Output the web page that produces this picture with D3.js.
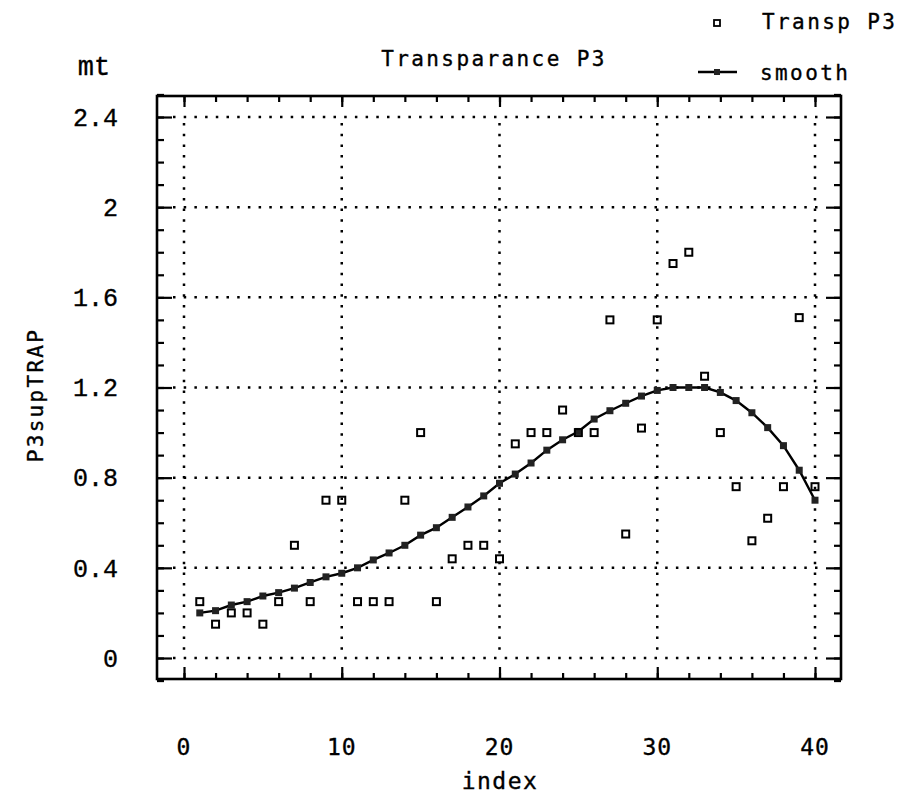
<!DOCTYPE html>
<html>
<head>
<meta charset="utf-8">
<script src="https://cdn.jsdelivr.net/npm/d3@7"></script>
<style>
  body { margin: 0; background: #fff; }
  text { fill: #000; stroke: #000; stroke-width: 0.35px; }
  .plotter { font-family: 'DejaVu Sans Mono', monospace; }
  .typewriter { font-family: 'Liberation Mono', 'Courier New', monospace; }
</style>
</head>
<body>
<svg id="chart" width="908" height="797"></svg>
<script>
/* data */
var indexValues = [1, 2, 3, 4, 5, 6, 7, 8, 9, 10,
  11, 12, 13, 14, 15, 16, 17, 18, 19, 20,
  21, 22, 23, 24, 25, 26, 27, 28, 29, 30,
  31, 32, 33, 34, 35, 36, 37, 38, 39, 40]

var transpP3 = [0.25, 0.15, 0.2, 0.2, 0.15, 0.25, 0.5, 0.25, 0.7, 0.7,
  0.25, 0.25, 0.25, 0.7, 1.0, 0.25, 0.44, 0.5, 0.5, 0.44,
  0.95, 1.0, 1.0, 1.1, 1.0, 1.0, 1.5, 0.55, 1.02, 1.5,
  1.75, 1.8, 1.25, 1.0, 0.76, 0.52, 0.62, 0.76, 1.51, 0.76]

var smoothP3 = [0.2, 0.21, 0.235, 0.25, 0.275, 0.29, 0.31, 0.335, 0.36, 0.376,
  0.4, 0.435, 0.466, 0.5, 0.545, 0.578, 0.624, 0.67, 0.719, 0.775,
  0.816, 0.865, 0.922, 0.968, 1.005, 1.06, 1.097, 1.13, 1.162, 1.187,
  1.2, 1.2, 1.2, 1.178, 1.142, 1.088, 1.022, 0.942, 0.833, 0.7]

var xMajorTicks = [0, 10, 20, 30, 40]
var xMinorTicks = [0, 2, 4, 6, 8, 10, 12, 14, 16, 18, 20, 22, 24, 26, 28, 30, 32, 34, 36, 38, 40]
var yMajorTicks = [0, 0.4, 0.8, 1.2, 1.6, 2, 2.4]
var yTickLabels = ['0', '0.4', '0.8', '1.2', '1.6', '2', '2.4']
var yMinorTicks = [-0.1, 0, 0.1, 0.2, 0.3, 0.4, 0.5, 0.6, 0.7, 0.8, 0.9, 1.0, 1.1, 1.2,
  1.3, 1.4, 1.5, 1.6, 1.7, 1.8, 1.9, 2.0, 2.1, 2.2, 2.3, 2.4, 2.5]

var svg = d3.select('#chart')

svg.append('rect')
    .attr('width', 908)
    .attr('height', 797)
    .attr('fill', '#fff')

var box = { left: 157, right: 841, top: 96, bottom: 679 }

var x = d3.scaleLinear()
    .domain([0, 40])
    .range([184, 815])

var y = d3.scaleLinear()
    .domain([0, 2.4])
    .range([658, 117])

var dots = '2.5 8.2'

// dotted grid
svg.append('g').selectAll('line.hgrid')
    .data(yMajorTicks)
    .enter()
    .append('line')
    .attr('x1', box.left + 16)
    .attr('x2', box.right - 16)
    .attr('y1', function (d) { return y(d) })
    .attr('y2', function (d) { return y(d) })
    .attr('stroke', '#000')
    .attr('stroke-width', 2.5)
    .attr('stroke-dasharray', dots)

svg.append('g').selectAll('line.vgrid')
    .data(xMajorTicks)
    .enter()
    .append('line')
    .attr('x1', function (d) { return x(d) })
    .attr('x2', function (d) { return x(d) })
    .attr('y1', y(2.4) + 6)
    .attr('y2', y(0) - 6)
    .attr('stroke', '#000')
    .attr('stroke-width', 2.5)
    .attr('stroke-dasharray', dots)

// inward ticks on all four sides
function tickAxis(axis, transform, size) {
  var g = svg.append('g')
      .attr('transform', transform)
      .call(axis.tickSize(size).tickFormat(''))
  g.select('.domain').remove()
  g.selectAll('.tick line').attr('stroke', '#000').attr('stroke-width', 2.2)
}

tickAxis(d3.axisBottom(x).tickValues(xMinorTicks), 'translate(0,' + box.bottom + ')', -6)
tickAxis(d3.axisBottom(x).tickValues(xMajorTicks), 'translate(0,' + box.bottom + ')', -12)
tickAxis(d3.axisTop(x).tickValues(xMinorTicks), 'translate(0,' + box.top + ')', -6)
tickAxis(d3.axisTop(x).tickValues(xMajorTicks), 'translate(0,' + box.top + ')', -11)
tickAxis(d3.axisLeft(y).tickValues(yMinorTicks), 'translate(' + box.left + ',0)', -7)
tickAxis(d3.axisLeft(y).tickValues(yMajorTicks), 'translate(' + box.left + ',0)', -15)
tickAxis(d3.axisRight(y).tickValues(yMinorTicks), 'translate(' + box.right + ',0)', -7)
tickAxis(d3.axisRight(y).tickValues(yMajorTicks), 'translate(' + box.right + ',0)', -15)

svg.append('rect')
    .attr('x', box.left)
    .attr('y', box.top)
    .attr('width', box.right - box.left)
    .attr('height', box.bottom - box.top)
    .attr('fill', 'none')
    .attr('stroke', '#000')
    .attr('stroke-width', 2.6)

// tick labels
svg.append('g').selectAll('text')
    .data(xMajorTicks)
    .enter()
    .append('text')
    .attr('class', 'plotter')
    .attr('x', function (d) { return x(d) })
    .attr('y', 755)
    .attr('text-anchor', 'middle')
    .attr('font-size', '23px')
    .attr('letter-spacing', '1px')
    .text(function (d) { return d })

svg.append('g').selectAll('text')
    .data(yMajorTicks)
    .enter()
    .append('text')
    .attr('class', 'typewriter')
    .attr('x', 118)
    .attr('y', function (d) { return y(d) })
    .attr('dy', '0.35em')
    .attr('text-anchor', 'end')
    .attr('font-size', '25px')
    .text(function (d, i) { return yTickLabels[i] })

// smooth line with filled markers
var line = d3.line()
    .x(function (d, i) { return x(indexValues[i]) })
    .y(function (d) { return y(d) })

svg.append('path')
    .datum(smoothP3)
    .attr('d', line)
    .attr('fill', 'none')
    .attr('stroke', '#000')
    .attr('stroke-width', 2.4)

svg.append('g').selectAll('rect')
    .data(smoothP3)
    .enter()
    .append('rect')
    .attr('x', function (d, i) { return x(indexValues[i]) - 3.5 })
    .attr('y', function (d) { return y(d) - 3.5 })
    .attr('width', 7)
    .attr('height', 7)
    .attr('fill', '#222')

// raw values as hollow squares
svg.append('g').selectAll('rect')
    .data(transpP3)
    .enter()
    .append('rect')
    .attr('x', function (d, i) { return x(indexValues[i]) - 3.5 })
    .attr('y', function (d) { return y(d) - 3.5 })
    .attr('width', 7)
    .attr('height', 7)
    .attr('fill', 'none')
    .attr('stroke', '#000')
    .attr('stroke-width', 2)

// titles
svg.append('text')
    .attr('class', 'plotter')
    .attr('x', 494)
    .attr('y', 66)
    .attr('text-anchor', 'middle')
    .attr('font-size', '21px')
    .attr('letter-spacing', '2.4px')
    .text('Transparance P3')

svg.append('text')
    .attr('class', 'typewriter')
    .attr('x', 94)
    .attr('y', 75)
    .attr('text-anchor', 'middle')
    .attr('font-size', '27px')
    .text('mt')

svg.append('text')
    .attr('class', 'plotter')
    .attr('x', 500)
    .attr('y', 789)
    .attr('text-anchor', 'middle')
    .attr('font-size', '23px')
    .attr('letter-spacing', '1.5px')
    .text('index')

svg.append('text')
    .attr('class', 'plotter')
    .attr('transform', 'translate(43,395) rotate(-90)')
    .attr('text-anchor', 'middle')
    .attr('font-size', '21px')
    .attr('letter-spacing', '2.3px')
    .text('P3supTRAP')

// legend
var legend = svg.append('g')

legend.append('rect')
    .attr('x', 714)
    .attr('y', 20)
    .attr('width', 6)
    .attr('height', 6)
    .attr('fill', 'none')
    .attr('stroke', '#000')
    .attr('stroke-width', 1.8)

legend.append('text')
    .attr('class', 'plotter')
    .attr('x', 762)
    .attr('y', 29)
    .attr('font-size', '21px')
    .attr('letter-spacing', '2.4px')
    .text('Transp P3')

legend.append('line')
    .attr('x1', 698)
    .attr('x2', 737)
    .attr('y1', 72)
    .attr('y2', 72)
    .attr('stroke', '#000')
    .attr('stroke-width', 2.4)

legend.append('rect')
    .attr('x', 714)
    .attr('y', 69)
    .attr('width', 6)
    .attr('height', 6)
    .attr('fill', '#222')

legend.append('text')
    .attr('class', 'plotter')
    .attr('x', 760)
    .attr('y', 80)
    .attr('font-size', '21px')
    .attr('letter-spacing', '2.4px')
    .text('smooth')
</script>
</body>
</html>
